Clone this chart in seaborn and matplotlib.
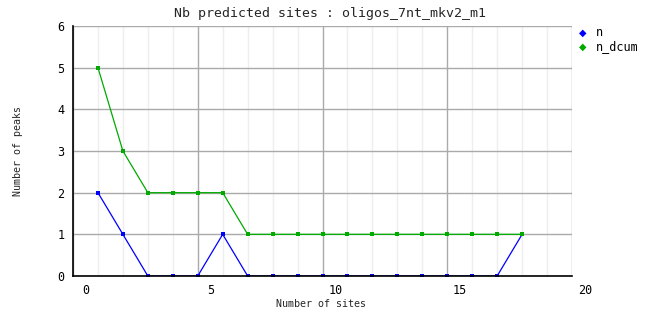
import matplotlib
matplotlib.use("Agg")
import matplotlib.pyplot as plt
import matplotlib.transforms as mtransforms
import seaborn as sns
import pandas as pd

sites = list(range(1, 19))
n = [2, 1, 0, 0, 0, 1, 0, 0, 0, 0, 0, 0, 0, 0, 0, 0, 0, 1]
n_dcum = [5, 3, 2, 2, 2, 2, 1, 1, 1, 1, 1, 1, 1, 1, 1, 1, 1, 1]
series_names = ["n", "n_dcum"]
x_ticks = [0, 5, 10, 15, 20]
y_ticks = [0, 1, 2, 3, 4, 5, 6]
title = "Nb predicted sites : oligos_7nt_mkv2_m1"

df = pd.DataFrame({"sites": sites * 2,
                   "value": n + n_dcum,
                   "series": [series_names[0]] * len(sites) + [series_names[1]] * len(sites)})

sns.set_theme(style="white")
plt.rcParams["font.family"] = ["DejaVu Sans Mono"]

fig = plt.figure(figsize=(6.62, 3.28), dpi=100)
ax = fig.add_axes([73 / 662, 1 - 276 / 328, (572 - 73) / 662, (276 - 26) / 328])

colors = {"n": "#0000ff", "n_dcum": "#00aa00"}
sns.lineplot(data=df, x="sites", y="value", hue="series", palette=colors,
             marker="s", markersize=3.2, markeredgewidth=0, linewidth=0.9,
             ax=ax, legend=False, zorder=3)

ax.set_xlim(0, 20)
ax.set_ylim(0, 6)
# grid
for xv in range(0, 21):
    if xv % 5 == 0:
        ax.axvline(xv, color="#aaaaaa", lw=1, zorder=1)
    else:
        ax.axvline(xv, color="#eeeeee", lw=1, zorder=0)
for yv in y_ticks:
    ax.axhline(yv, color="#aaaaaa", lw=1, zorder=1)

ax.set_xticks(x_ticks)
ax.set_xticklabels([str(t) for t in x_ticks])
ax.set_yticks(y_ticks)
ax.set_yticklabels([str(t) for t in y_ticks])
ax.tick_params(axis="both", length=0, labelsize=8.5, colors="black")
ax.tick_params(axis="x", pad=6)
ax.tick_params(axis="y", pad=6)
offset = mtransforms.ScaledTranslation(13 / 100, 0, fig.dpi_scale_trans)
for lab in ax.get_xticklabels():
    lab.set_transform(lab.get_transform() + offset)

for side in ["top", "right"]:
    ax.spines[side].set_visible(False)
for side in ["left", "bottom"]:
    ax.spines[side].set_color("black")
    ax.spines[side].set_linewidth(1.2)
    ax.spines[side].set_zorder(4)

ax.set_xlabel("")
ax.set_ylabel("")
fig.text(321.5 / 662, 1 - 304 / 328, "Number of sites", fontsize=7.2,
         ha="center", va="center")
fig.text(18 / 662, 1 - 151 / 328, "Number of peaks", fontsize=7.2,
         ha="center", va="center", rotation=90)
fig.text(330 / 662, 1 - 14 / 328, title, fontsize=9.5, ha="center", va="center")

# legend
for i, name in enumerate(series_names):
    y = 1 - (33 + 14 * i) / 328
    fig.text(583 / 662, y, "\u25C6", color=colors[name], fontsize=7,
             ha="center", va="center", family=["DejaVu Sans"])
    fig.text(596 / 662, y, name, color="black", fontsize=8.5, ha="left", va="center")

fig.savefig("out.png", dpi=100, facecolor="white")
